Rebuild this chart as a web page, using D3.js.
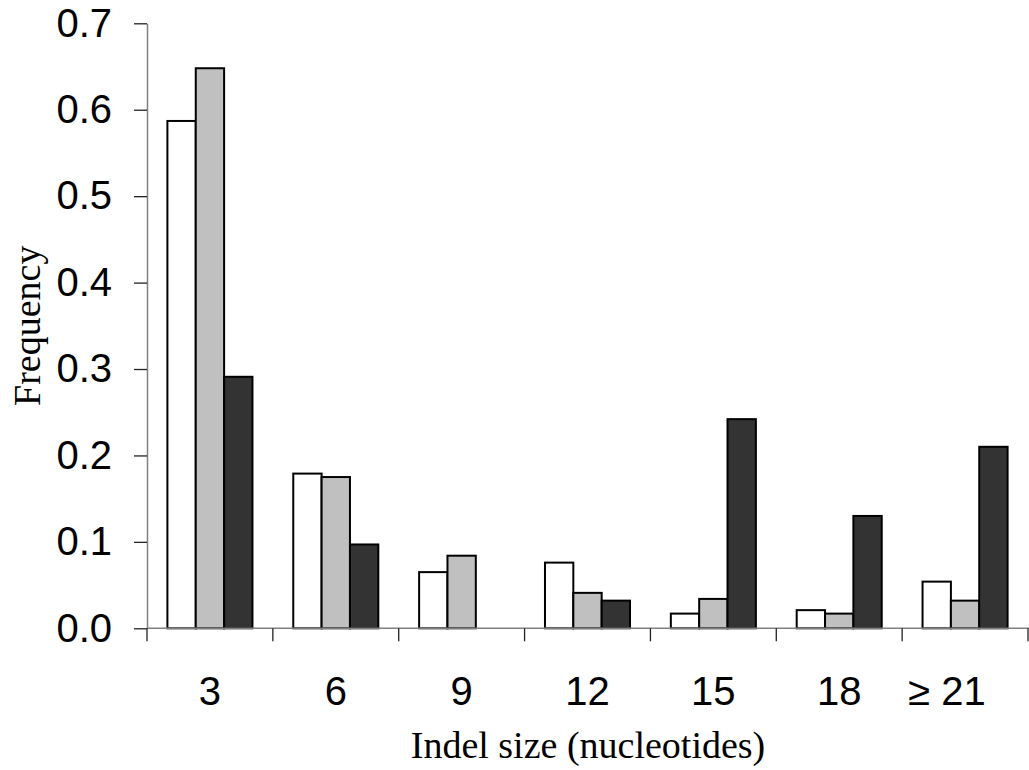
<!DOCTYPE html>
<html>
<head>
<meta charset="utf-8">
<script src="https://cdn.jsdelivr.net/npm/d3@7"></script>
<style>
  body { margin: 0; background: #fff; }
  svg { display: block; }
</style>
</head>
<body>
<svg id="chart"></svg>
<script>
// indel size classes on the x axis
var categories = ["3", "6", "9", "12", "15", "18", "\u2265 21"];
var seriesKeys = ["white", "grey", "black"];
// frequencies, one array per bar shade
var whiteValues = [0.587, 0.179, 0.065, 0.076, 0.017, 0.021, 0.054];
var greyValues  = [0.648, 0.175, 0.084, 0.041, 0.034, 0.017, 0.032];
var blackValues = [0.291, 0.097, 0.000, 0.032, 0.242, 0.130, 0.210];
var yTicks = [0, 0.1, 0.2, 0.3, 0.4, 0.5, 0.6, 0.7];

var dimensions = {
    width: 1029,
    height: 770,
    margins: { top: 23.3, right: 1, bottom: 141.7, left: 147 }
};

var fills = { white: "#ffffff", grey: "#c0c0c0", black: "#333333" };

var table = categories.map(function(c, i) {
    return { cat: c, white: whiteValues[i], grey: greyValues[i], black: blackValues[i] };
});

var svg = d3.select("#chart")
            .attr("width", dimensions.width)
            .attr("height", dimensions.height);

var x0 = d3.scaleBand()
           .domain(categories)
           .range([dimensions.margins.left, dimensions.width - dimensions.margins.right])
           .paddingInner(0)
           .paddingOuter(0);

var x1 = d3.scaleBand()
           .domain(seriesKeys)
           .range([0, x0.bandwidth()])
           .paddingInner(0)
           .paddingOuter(0.72);

var yScale = d3.scaleLinear()
               .domain([0, 0.7])
               .range([dimensions.height - dimensions.margins.bottom, dimensions.margins.top]);

var baseY = yScale(0);

// bars
svg.append("g")
   .selectAll("g")
   .data(table)
   .enter()
   .append("g")
   .attr("transform", d => "translate(" + x0(d.cat) + ",0)")
   .selectAll("rect")
   .data(d => seriesKeys.map(k => ({ key: k, value: d[k] })).filter(e => e.value > 0))
   .enter()
   .append("rect")
   .attr("x", d => x1(d.key))
   .attr("y", d => yScale(d.value))
   .attr("width", x1.bandwidth())
   .attr("height", d => baseY - yScale(d.value))
   .attr("fill", d => fills[d.key])
   .attr("stroke", "#000")
   .attr("stroke-width", 2);

// y axis
var yAxis = svg.append("g")
   .attr("transform", "translate(" + dimensions.margins.left + ",0)")
   .call(d3.axisLeft(yScale)
           .tickValues(yTicks)
           .tickFormat(d3.format(".1f"))
           .tickSize(13)
           .tickSizeOuter(0)
           .tickPadding(22));
yAxis.select(".domain").attr("stroke", "#808080").attr("stroke-width", 1.5);
yAxis.selectAll(".tick line").attr("stroke", "#222").attr("stroke-width", 1.3);
yAxis.selectAll("text")
     .attr("font-family", "'Liberation Sans', Arial, sans-serif")
     .attr("font-size", 40)
     .attr("fill", "#000");

// x axis line and boundary ticks
svg.append("line")
   .attr("x1", dimensions.margins.left)
   .attr("x2", dimensions.width)
   .attr("y1", baseY)
   .attr("y2", baseY)
   .attr("stroke", "#808080")
   .attr("stroke-width", 1.5);

var bounds = categories.map(c => x0(c)).concat([x0.range()[1]]);
svg.append("g")
   .selectAll("line")
   .data(bounds)
   .enter()
   .append("line")
   .attr("x1", d => d)
   .attr("x2", d => d)
   .attr("y1", baseY)
   .attr("y2", baseY + 13)
   .attr("stroke", "#222")
   .attr("stroke-width", 1.3);

// category labels
var xAxis = svg.append("g")
   .attr("transform", "translate(0," + baseY + ")")
   .call(d3.axisBottom(x0).tickSize(0).tickPadding(48));
xAxis.select(".domain").remove();
xAxis.selectAll("text")
     .attr("font-family", "'Liberation Sans', Arial, sans-serif")
     .attr("font-size", 40)
     .attr("fill", "#000")
     .attr("dx", d => d === "\u2265 21" ? -18 : 0);

// axis titles
svg.append("text")
   .attr("x", (dimensions.margins.left + dimensions.width) / 2)
   .attr("y", 758)
   .attr("text-anchor", "middle")
   .attr("font-family", "'Liberation Serif', 'Times New Roman', serif")
   .attr("font-size", 38)
   .text("Indel size (nucleotides)");

svg.append("text")
   .attr("transform", "translate(40," + (yScale(0.35)) + ") rotate(-90)")
   .attr("text-anchor", "middle")
   .attr("font-family", "'Liberation Serif', 'Times New Roman', serif")
   .attr("font-size", 38)
   .text("Frequency");
</script>
</body>
</html>
